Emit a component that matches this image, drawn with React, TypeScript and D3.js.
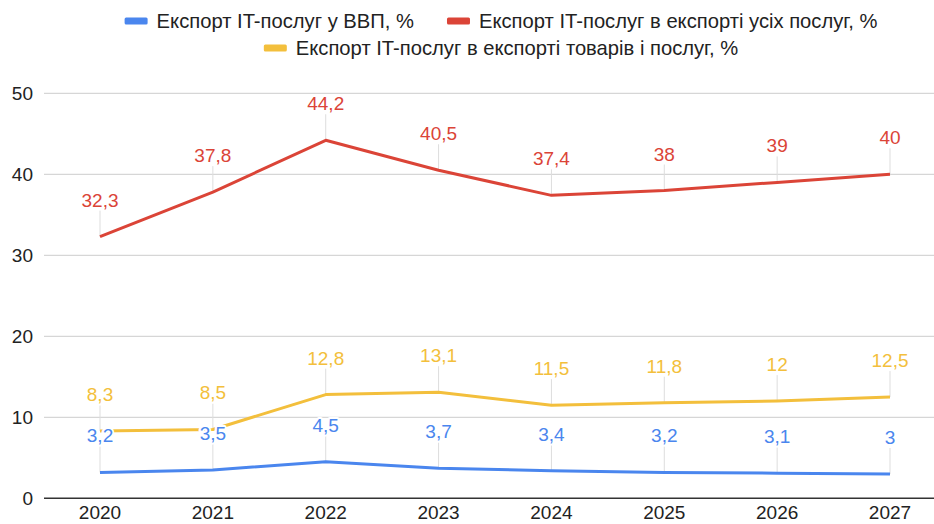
import React, { useEffect, useRef } from "react";
import * as d3 from "d3";

const years = ["2020", "2021", "2022", "2023", "2024", "2025", "2026", "2027"];
const gdpShare = [3.2, 3.5, 4.5, 3.7, 3.4, 3.2, 3.1, 3];
const servicesShare = [32.3, 37.8, 44.2, 40.5, 37.4, 38, 39, 40];
const goodsServicesShare = [8.3, 8.5, 12.8, 13.1, 11.5, 11.8, 12, 12.5];
const yTicks = [0, 10, 20, 30, 40, 50];
const seriesNames = [
  "Експорт IT-послуг у ВВП, %",
  "Експорт IT-послуг в експорті усіх послуг, %",
  "Експорт IT-послуг в експорті товарів і послуг, %",
];
const colors = ["#4A86EE", "#DB4437", "#F3BF3C"];

const W = 934;
const H = 524;
const FONT = "'Liberation Sans', Arial, sans-serif";

export default function App() {
  const ref = useRef<SVGSVGElement | null>(null);

  useEffect(() => {
    const svg = d3.select(ref.current);
    svg.selectAll("*").remove();

    const x = d3.scalePoint<string>().domain(years).range([100, 890]);
    const y = d3.scaleLinear().domain([0, 50]).range([498.3, 93.3]);

    const grid = svg.append("g");
    yTicks.forEach((t) => {
      if (t === 0) return;
      grid
        .append("line")
        .attr("x1", 44)
        .attr("x2", W)
        .attr("y1", y(t))
        .attr("y2", y(t))
        .attr("stroke", "#cccccc")
        .attr("stroke-width", 1);
    });
    yTicks.forEach((t) => {
      svg
        .append("text")
        .attr("x", 33)
        .attr("y", y(t))
        .attr("dy", "0.35em")
        .attr("text-anchor", "end")
        .attr("font-family", FONT)
        .attr("font-size", 19)
        .attr("fill", "#222")
        .text(String(t));
    });

    const series = [gdpShare, servicesShare, goodsServicesShare];

    series.forEach((vals) => {
      vals.forEach((v, i) => {
        svg
          .append("line")
          .attr("x1", x(years[i])!)
          .attr("x2", x(years[i])!)
          .attr("y1", y(v))
          .attr("y2", y(v) - 26)
          .attr("stroke", "#dddddd")
          .attr("stroke-width", 1);
      });
    });

    svg
      .append("line")
      .attr("x1", 44)
      .attr("x2", W)
      .attr("y1", y(0))
      .attr("y2", y(0))
      .attr("stroke", "#333")
      .attr("stroke-width", 1.5);

    const line = d3
      .line<number>()
      .x((_, i) => x(years[i])!)
      .y((d) => y(d));

    [2, 1, 0].forEach((k) => {
      svg
        .append("path")
        .attr("d", line(series[k])!)
        .attr("fill", "none")
        .attr("stroke", colors[k])
        .attr("stroke-width", 3)
        .attr("stroke-linejoin", "round");
    });

    series.forEach((vals, k) => {
      vals.forEach((v, i) => {
        svg
          .append("text")
          .attr("x", x(years[i])!)
          .attr("y", y(v) - 30)
          .attr("text-anchor", "middle")
          .attr("font-family", FONT)
          .attr("font-size", 19)
          .attr("fill", colors[k])
          .attr("stroke", "#fff")
          .attr("stroke-width", 4)
          .attr("stroke-linejoin", "round")
          .attr("paint-order", "stroke")
          .text(String(v).replace(".", ","));
      });
    });

    years.forEach((yr) => {
      svg
        .append("text")
        .attr("x", x(yr)!)
        .attr("y", 519)
        .attr("text-anchor", "middle")
        .attr("font-family", FONT)
        .attr("font-size", 19)
        .attr("fill", "#222")
        .text(yr);
    });

    const rows = [[0, 1], [2]];
    const rowY = [21, 48];
    const center = 501;
    rows.forEach((row, r) => {
      const g = svg.append("g");
      let cx = 0;
      row.forEach((k, j) => {
        if (j > 0) cx += 33;
        g.append("rect")
          .attr("x", cx)
          .attr("y", rowY[r] - 3.5)
          .attr("width", 23)
          .attr("height", 7)
          .attr("rx", 1.5)
          .attr("fill", colors[k]);
        cx += 32;
        const t = g
          .append("text")
          .attr("x", cx)
          .attr("y", rowY[r])
          .attr("dy", "0.35em")
          .attr("font-family", FONT)
          .attr("font-size", 20.2)
          .attr("fill", "#222")
          .text(seriesNames[k]);
        cx += (t.node() as SVGTextElement).getComputedTextLength();
      });
      g.attr("transform", `translate(${center - cx / 2},0)`);
    });
  }, []);

  return (
    <svg
      ref={ref}
      width={W}
      height={H}
      style={{ position: "absolute", left: 0, top: 0, background: "#fff" }}
    />
  );
}
